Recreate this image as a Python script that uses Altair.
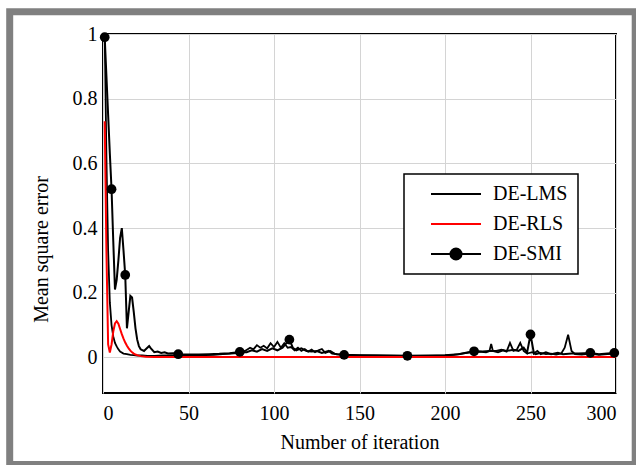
import altair as alt
import pandas as pd

# ---------------- data ----------------
series_names = ["DE-LMS", "DE-RLS", "DE-SMI"]
series_colors = ["black", "red", "black"]

lms_x = [1, 2, 3, 4, 5, 6, 7, 8, 9, 10, 12, 14, 16, 18, 20, 23, 26, 30, 35, 40,
         45, 50, 55, 60, 65, 70, 75, 80, 83, 86, 88, 90, 92, 94, 96, 98, 100, 102, 104, 106,
         108, 110, 112, 114, 116, 118, 120, 122, 124, 126, 128, 130, 133, 136, 140, 145, 150, 160, 170, 180,
         190, 200, 205, 210, 215, 220, 224, 226, 227, 228, 231, 234, 236, 238, 240, 242, 244, 246, 248, 251,
         253, 256, 259, 262, 265, 268, 270, 272, 274, 276, 280, 285, 290, 295, 300]
lms_y = [1.0, 0.62, 0.33, 0.17, 0.1, 0.065, 0.045, 0.034, 0.025, 0.018, 0.012, 0.01, 0.008, 0.007, 0.006,
         0.006, 0.005, 0.005, 0.006, 0.006, 0.005, 0.006, 0.006, 0.007, 0.008, 0.01, 0.012, 0.014, 0.02, 0.03,
         0.025, 0.038, 0.03, 0.036, 0.028, 0.044, 0.032, 0.048, 0.03, 0.044, 0.03, 0.032, 0.022, 0.03, 0.02,
         0.026, 0.018, 0.024, 0.016, 0.022, 0.026, 0.014, 0.02, 0.01, 0.008, 0.007, 0.006, 0.005, 0.005, 0.004,
         0.005, 0.006, 0.008, 0.012, 0.016, 0.018, 0.016, 0.02, 0.042, 0.02, 0.016, 0.022, 0.018, 0.045, 0.02,
         0.024, 0.045, 0.02, 0.012, 0.016, 0.01, 0.014, 0.01, 0.012, 0.009, 0.012, 0.03, 0.07, 0.02, 0.01,
         0.009, 0.012, 0.008, 0.01, 0.012]

rls_x = [1, 2, 3, 4, 5, 6, 7, 8, 9, 10, 11, 12, 13, 14, 15, 16, 17, 18, 19, 20,
         22, 25, 30, 40, 100, 200, 300]
rls_y = [0.73, 0.33, 0.04, 0.015, 0.04, 0.08, 0.105, 0.112, 0.104, 0.088, 0.072, 0.058, 0.046, 0.036,
         0.028, 0.021, 0.016, 0.012, 0.009, 0.007, 0.004, 0.002, 0.001, 0.001, 0.001, 0.001, 0.001]

smi_x = [1, 2, 3, 4, 5, 6, 7, 8, 9, 10, 11, 12, 13, 14, 15, 16, 17, 18, 19, 20, 21, 22,
         24, 25, 27, 28, 30, 32, 34, 36, 38, 41, 44, 50, 56, 62, 68, 74, 80, 84, 87, 90,
         93, 96, 99, 102, 105, 109, 111, 113, 116, 119, 122, 125, 128, 132, 134, 137, 141, 150, 160, 170,
         178, 190, 200, 208, 213, 217, 222, 226, 230, 233, 236, 240, 243, 246, 248, 250, 252, 254, 256, 259,
         262, 266, 269, 274, 278, 285, 290, 295, 299]
smi_y = [0.99, 0.87, 0.75, 0.63, 0.52, 0.36, 0.21, 0.24, 0.3, 0.37, 0.4, 0.33, 0.255, 0.09, 0.14,
         0.19, 0.185, 0.14, 0.09, 0.055, 0.035, 0.025, 0.02, 0.025, 0.035, 0.028, 0.016, 0.018, 0.014, 0.016,
         0.012, 0.013, 0.01, 0.009, 0.009, 0.01, 0.011, 0.013, 0.017, 0.016, 0.022, 0.018, 0.026, 0.02, 0.028,
         0.022, 0.03, 0.055, 0.03, 0.022, 0.028, 0.02, 0.018, 0.02, 0.014, 0.02, 0.012, 0.01, 0.008, 0.007,
         0.007, 0.006, 0.005, 0.006, 0.007, 0.01, 0.015, 0.019, 0.018, 0.02, 0.02, 0.024, 0.02, 0.024, 0.02,
         0.03, 0.015, 0.071, 0.012, 0.02, 0.01, 0.016, 0.01, 0.014, 0.01, 0.012, 0.012, 0.014, 0.01, 0.012,
         0.014]
smi_marker_iters = [1, 5, 13, 44, 80, 109, 141, 178, 217, 250, 285, 299]

x_ticks = [0, 50, 100, 150, 200, 250, 300]
y_ticks = [0, 0.2, 0.4, 0.6, 0.8, 1]

# ---------------- tables ----------------
df_lms = pd.DataFrame({"iter": lms_x, "mse": lms_y, "series": series_names[0]})
df_rls = pd.DataFrame({"iter": rls_x, "mse": rls_y, "series": series_names[1]})
df_smi = pd.DataFrame({"iter": smi_x, "mse": smi_y, "series": series_names[2]})

SERIF = "Liberation Serif"
W, H = 513, 359

# legend glyphs (unit path coordinates, scaled by sqrt(symbolSize)/2)
LINE = "M-3.125,0H3.125"
def ring(r):
    return f"M{-r},0A{r},{r} 0 1,0 {r},0A{r},{r} 0 1,0 {-r},0Z"
DOT = LINE + "".join(ring(r) for r in [0.69, 0.47, 0.26, 0.07])

axis_text = dict(labelFont=SERIF, labelFontSize=20, labelColor="black",
                 titleFont=SERIF, titleFontSize=20, titleFontWeight="normal", titleColor="black",
                 domain=False, ticks=False, tickSize=0, grid=True, gridColor="#d4d4d4", gridWidth=1)

x_enc = alt.X("iter:Q",
              scale=alt.Scale(domain=[0, 300], nice=False, zero=False),
              axis=alt.Axis(values=x_ticks, title="Number of iteration",
                            titleY=55, titleBaseline="alphabetic",
                            labelPadding=10, **axis_text))
y_enc = alt.Y("mse:Q",
              scale=alt.Scale(domain=[-0.11, 1], nice=False, zero=False),
              axis=alt.Axis(values=y_ticks, format="~g", title="Mean square error",
                            titleX=-62, titleY=215, titleAlign="center",
                            titleBaseline="middle", labelPadding=6, **axis_text))

def line_layer(df, colour, width=2):
    return alt.Chart(df).mark_line(strokeWidth=width).encode(
        x=x_enc, y=y_enc, color=alt.value(colour),
    )

lms_line = line_layer(df_lms, series_colors[0], 1.8)
smi_line = line_layer(df_smi, series_colors[2], 2)
rls_line = line_layer(df_rls, series_colors[1], 2)

markers = alt.Chart(df_smi).mark_point(filled=True, size=95, opacity=1).encode(
    x=x_enc, y=y_enc, color=alt.value("black")
).transform_filter(alt.FieldOneOfPredicate(field="iter", oneOf=smi_marker_iters))

leg = alt.Legend(title=None, orient="none", legendX=301, legendY=140, direction="vertical",
                 padding=10, strokeColor="black", fillColor="white",
                 symbolSize=256, symbolStrokeWidth=2, symbolOffset=32, symbolOpacity=1,
                 labelOffset=27, rowPadding=10, labelFont=SERIF, labelFontSize=20,
                 labelColor="black")

legend_layer = alt.Chart(df_smi).mark_point(opacity=0, filled=False).encode(
    x=x_enc, y=y_enc,
    color=alt.Color("series:N", scale=alt.Scale(domain=series_names, range=series_colors), legend=leg),
    shape=alt.Shape("series:N", scale=alt.Scale(domain=series_names, range=[LINE, LINE, DOT]),
                    legend=leg),
)

frame = alt.Chart(pd.DataFrame({"k": [0]})).mark_rect(
    fillOpacity=0, stroke="#808080", strokeWidth=7, clip=False
).encode(x=alt.value(-93.3), x2=alt.value(532.2), y=alt.value(-22.3), y2=alt.value(430.5))

chart = alt.layer(frame, lms_line, smi_line, rls_line, markers, legend_layer).properties(
    width=W, height=H,
    autosize=alt.AutoSizeParams(type="none"),
    padding={"left": 103, "top": 34, "right": 20, "bottom": 72},
    background="white",
).configure_view(
    stroke="black", strokeWidth=2
).configure_legend(strokeWidth=1.5)

chart.save("out.html", embed_options={"renderer": "svg", "actions": False})
